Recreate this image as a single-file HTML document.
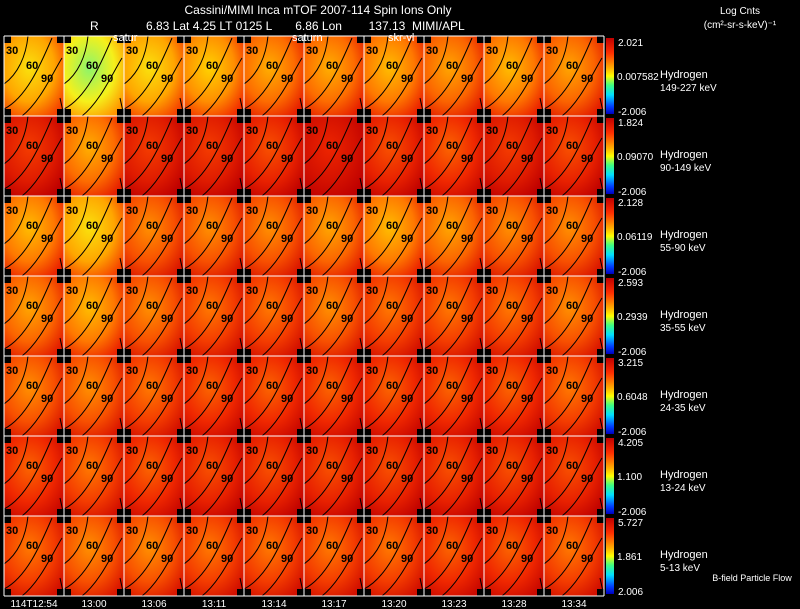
<!DOCTYPE html>
<html><head><meta charset="utf-8">
<style>
html,body{margin:0;padding:0;background:#000;}
svg{display:block;font-family:"Liberation Sans",sans-serif;}
</style></head>
<body>
<svg id="c" width="800" height="609" viewBox="0 0 800 609">
<defs>
<linearGradient id="cbar" x1="0" y1="0" x2="0" y2="1">
<stop offset="0" stop-color="#c00000"/><stop offset="0.2" stop-color="#ff3000"/>
<stop offset="0.4" stop-color="#ffb000"/><stop offset="0.5" stop-color="#ffff00"/>
<stop offset="0.62" stop-color="#40ff80"/><stop offset="0.75" stop-color="#00e0ff"/>
<stop offset="0.9" stop-color="#0040ff"/><stop offset="1" stop-color="#0000c0"/>
</linearGradient>
</defs>
<g id="panels"></g>
<text x="318" y="14" fill="#fff" font-size="12" text-anchor="middle">Cassini/MIMI Inca mTOF  2007-114   Spin    Ions Only</text>
<text x="90" y="30" fill="#fff" font-size="12">R</text>
<text x="146" y="30" fill="#fff" font-size="12" xml:space="preserve">6.83 Lat 4.25 LT 0125 L       6.86 Lon        137.13  MIMI/APL</text>
<text x="113" y="41" fill="#fff" font-size="11">satur</text>
<text x="292" y="41" fill="#fff" font-size="11">saturn</text>
<text x="388" y="41" fill="#fff" font-size="11">skr-vl</text>
<text x="740" y="14" fill="#fff" font-size="10" text-anchor="middle">Log Cnts</text>
<text x="740" y="28" fill="#fff" font-size="10" text-anchor="middle">(cm²-sr-s-keV)⁻¹</text>
<text x="752" y="581" fill="#fff" font-size="9" text-anchor="middle">B-field Particle Flow</text>
</svg>
<script>
const times=["114T12:54","13:00","13:06","13:11","13:14","13:17","13:20","13:23","13:28","13:34"];
const species=["149-227 keV","90-149 keV","55-90 keV","35-55 keV","24-35 keV","13-24 keV","5-13 keV"];
const scaleMax=["2.021","1.824","2.128","2.593","3.215","4.205","5.727"];
const scaleMid=["0.007582","0.09070","0.06119","0.2939","0.6048","1.100","1.861"];
const scaleMin=["-2.006","-2.006","-2.006","-2.006","-2.006","-2.006","2.006"];
const row0=[0.75,0.95,0.75,0.7,0.62,0.62,0.65,0.6,0.65,0.6];
const row1=[0.35,0.62,0.35,0.35,0.4,0.28,0.4,0.45,0.35,0.4];
const row2=[0.65,0.75,0.55,0.55,0.55,0.6,0.65,0.6,0.55,0.55];
const row3=[0.6,0.65,0.55,0.5,0.5,0.55,0.5,0.5,0.5,0.55];
const row4=[0.55,0.55,0.5,0.45,0.45,0.45,0.45,0.45,0.45,0.5];
const row5=[0.45,0.5,0.45,0.4,0.4,0.4,0.4,0.4,0.4,0.4];
const row6=[0.5,0.55,0.55,0.5,0.5,0.5,0.5,0.45,0.45,0.5];
const rows=[row0,row1,row2,row3,row4,row5,row6];
const NS="http://www.w3.org/2000/svg";
const X0=4,Y0=36,PW=60,PH=80;
const stops=[[0,[190,0,0]],[0.3,[240,40,0]],[0.5,[255,120,0]],[0.7,[255,210,0]],[0.85,[240,255,40]],[1,[90,240,140]]];
function cmap(v){v=Math.max(0,Math.min(1,v));for(let i=1;i<stops.length;i++){if(v<=stops[i][0]){const a=stops[i-1],b=stops[i],t=(v-a[0])/(b[0]-a[0]);return "rgb("+a[1].map((c,k)=>Math.round(c+(b[1][k]-c)*t)).join(",")+")";}}return "rgb(90,240,140)";}
function el(t,a,p){const e=document.createElementNS(NS,t);for(const k in a)e.setAttribute(k,a[k]);p.appendChild(e);return e;}
const g=document.getElementById('panels');
const defs=document.querySelector('defs');
rows.forEach((vals,r)=>{
  const y=Y0+r*PH;
  vals.forEach((v,c)=>{
    const x=X0+c*PW;
    const gid="rg"+r+"_"+c;
    const rg=el('radialGradient',{id:gid,cx:"0.42",cy:"0.4",r:"0.7"},defs);
    el('stop',{offset:"0","stop-color":cmap(v)},rg);
    el('stop',{offset:"0.6","stop-color":cmap(v-0.15)},rg);
    el('stop',{offset:"1","stop-color":cmap(v-0.38)},rg);
    const pg=el('g',{},g);
    
    
    el('rect',{x:x,y:y,width:PW,height:PH,fill:"url(#"+gid+")"},pg);
    const s=7;
    [[x,y],[x+PW-s,y],[x,y+PH-s],[x+PW-s,y+PH-s]].forEach(p=>el('rect',{x:p[0],y:p[1],width:s,height:s,fill:"#000"},pg));
    el('path',{d:`M${x} ${y+48} C${x+14} ${y+38} ${x+22} ${y+20} ${x+24} ${y}`,stroke:"#000",fill:"none","stroke-width":"1"},pg);
    el('path',{d:`M${x} ${y+73} C${x+22} ${y+62} ${x+36} ${y+30} ${x+48} ${y+2}`,stroke:"#000",fill:"none","stroke-width":"1"},pg);
    el('path',{d:`M${x+18} ${y+80} C${x+36} ${y+66} ${x+48} ${y+38} ${x+58} ${y+22}`,stroke:"#000",fill:"none","stroke-width":"1"},pg);
    el('path',{d:`M${x+56} ${y+62} L${x+60} ${y+80}`,stroke:"#000",fill:"none","stroke-width":"1"},pg);
    [["30",x+2,y+18],["60",x+22,y+33],["90",x+37,y+46]].forEach(l=>{const t=el('text',{x:l[1],y:l[2],"font-size":"11","font-weight":"bold",fill:"#000"},pg);t.textContent=l[0];});
  });
  const cb=el('rect',{x:606,y:y+2,width:8,height:PH-4,fill:"url(#cbar)"},g);
  
  
  const t1=el('text',{x:618,y:y+10,fill:"#fff","font-size":"10"},g);t1.textContent=scaleMax[r];
  
  const t2=el('text',{x:617,y:y+44,fill:"#fff","font-size":"10"},g);t2.textContent=scaleMid[r];
  
  const t3=el('text',{x:618,y:y+79,fill:"#fff","font-size":"10"},g);t3.textContent=scaleMin[r];
  
  const h=el('text',{x:660,y:y+42,fill:"#fff","font-size":"11"},g);h.textContent="Hydrogen";
  
  const e=el('text',{x:660,y:y+55,fill:"#fff","font-size":"10"},g);e.textContent=species[r];
  
});
for(let c=0;c<=10;c++){const l=el('line',{x1:X0+c*PW,y1:Y0,x2:X0+c*PW,y2:Y0+7*PH,stroke:"#fff","stroke-width":"1"},g);
  }
for(let r=0;r<=7;r++){const l=el('line',{x1:X0,y1:Y0+r*PH,x2:X0+10*PW,y2:Y0+r*PH,stroke:"#fff","stroke-width":"1"},g);
  }
times.forEach((t,c)=>{const tx=el('text',{x:X0+c*PW+30,y:607,fill:"#fff","font-size":"10","text-anchor":"middle"},g);tx.textContent=t;
  });
</script>
</body></html>
